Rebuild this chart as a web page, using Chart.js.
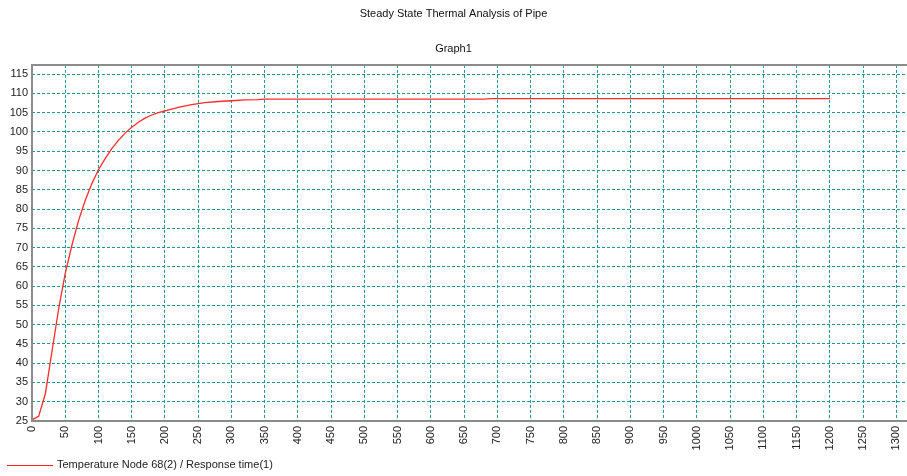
<!DOCTYPE html>
<html>
<head>
<meta charset="utf-8">
<title>Steady State Thermal Analysis of Pipe</title>
<script src="https://cdn.jsdelivr.net/npm/chart.js@4.4.1/dist/chart.umd.min.js"></script>
<style>
  html, body { margin: 0; padding: 0; background: #fff; }
  #wrap { width: 907px; height: 476px; }
</style>
</head>
<body>
<div id="wrap"><canvas id="graph1"></canvas></div>
<script>
// response time (s) and temperature at node 68
const responseTime = [0, 10, 20, 30, 40, 50, 60, 70, 80, 90, 100, 110, 120, 130, 140, 150, 160, 170, 180, 190, 200, 220, 240, 260, 280, 300, 320, 340, 350, 680, 690, 1200];
const temperature  = [25.3, 26.2, 32, 43, 54, 63.3, 70.6, 77, 82.2, 86.6, 90.2, 93.1, 95.7, 97.8, 99.7, 101.2, 102.5, 103.6, 104.4, 105, 105.5, 106.4, 107.1, 107.6, 107.9, 108.1, 108.3, 108.4, 108.5, 108.5, 108.65, 108.65];

const chartTitle = 'Steady State Thermal Analysis of Pipe';
const graphTitle = 'Graph1';
const seriesLabel = 'Temperature Node 68(2) / Response time(1)';

const FONT = "'Liberation Sans', Arial, sans-serif";
const GRID = '#1f9595';
const AXIS = '#8c8c8c';

// top frame line, solid left/bottom axes and the legend line at the bottom left
const framePlugin = {
  id: 'frameAndLegend',
  afterDraw(chart) {
    const { ctx, chartArea } = chart;
    ctx.save();
    ctx.strokeStyle = AXIS;
    ctx.lineWidth = 2;
    ctx.beginPath();
    ctx.moveTo(chartArea.right, chartArea.top);
    ctx.lineTo(chartArea.left, chartArea.top);
    ctx.lineTo(chartArea.left, chartArea.bottom);
    ctx.lineTo(chartArea.right, chartArea.bottom);
    ctx.stroke();

    ctx.strokeStyle = '#ff2020';
    ctx.lineWidth = 1;
    ctx.beginPath();
    ctx.moveTo(7, 465.5);
    ctx.lineTo(53, 465.5);
    ctx.stroke();
    ctx.fillStyle = '#222';
    ctx.font = '11px ' + FONT;
    ctx.textBaseline = 'middle';
    ctx.fillText(seriesLabel, 57, 465);
    ctx.restore();
  }
};

new Chart(document.getElementById('graph1'), {
  type: 'line',
  data: {
    datasets: [{
      label: seriesLabel,
      data: responseTime.map((t, i) => ({ x: t, y: temperature[i] })),
      borderColor: '#ff2a2a',
      borderWidth: 1.3,
      pointRadius: 0,
      tension: 0,
      fill: false
    }]
  },
  options: {
    responsive: true,
    maintainAspectRatio: false,
    animation: false,
    layout: { padding: { left: 0, right: 0, top: 0, bottom: 0 } },
    plugins: {
      legend: { display: false },
      tooltip: { enabled: false },
      title: {
        display: true,
        text: chartTitle,
        color: '#111',
        font: { family: FONT, size: 11, weight: 'normal' },
        padding: { top: 7, bottom: 22 }
      },
      subtitle: {
        display: true,
        text: graphTitle,
        color: '#111',
        font: { family: FONT, size: 11, weight: 'normal' },
        padding: { top: 0, bottom: 9.5 }
      }
    },
    scales: {
      x: {
        type: 'linear',
        min: 0,
        max: 1316,
        afterFit(scale) {
          scale.height = 55;
          scale.paddingRight = 0;
          scale.paddingLeft = 0;
        },
        border: { display: false, dash: [3, 2] },
        grid: { color: GRID, lineWidth: 1, drawTicks: false, tickLength: 0 },
        ticks: {
          stepSize: 50,
          includeBounds: false,
          autoSkip: false,
          minRotation: 90,
          maxRotation: 90,
          padding: 5,
          color: '#222',
          font: { family: FONT, size: 11 },
          callback: v => String(v)
        }
      },
      y: {
        min: 25,
        max: 117.4,
        afterFit(scale) { scale.width = 32; },
        border: { display: false, dash: [3, 2] },
        grid: { color: GRID, lineWidth: 1, drawTicks: false, tickLength: 0 },
        ticks: {
          stepSize: 5,
          includeBounds: false,
          padding: 4,
          color: '#222',
          font: { family: FONT, size: 11 },
          callback: v => String(v)
        }
      }
    }
  },
  plugins: [framePlugin]
});
</script>
</body>
</html>
